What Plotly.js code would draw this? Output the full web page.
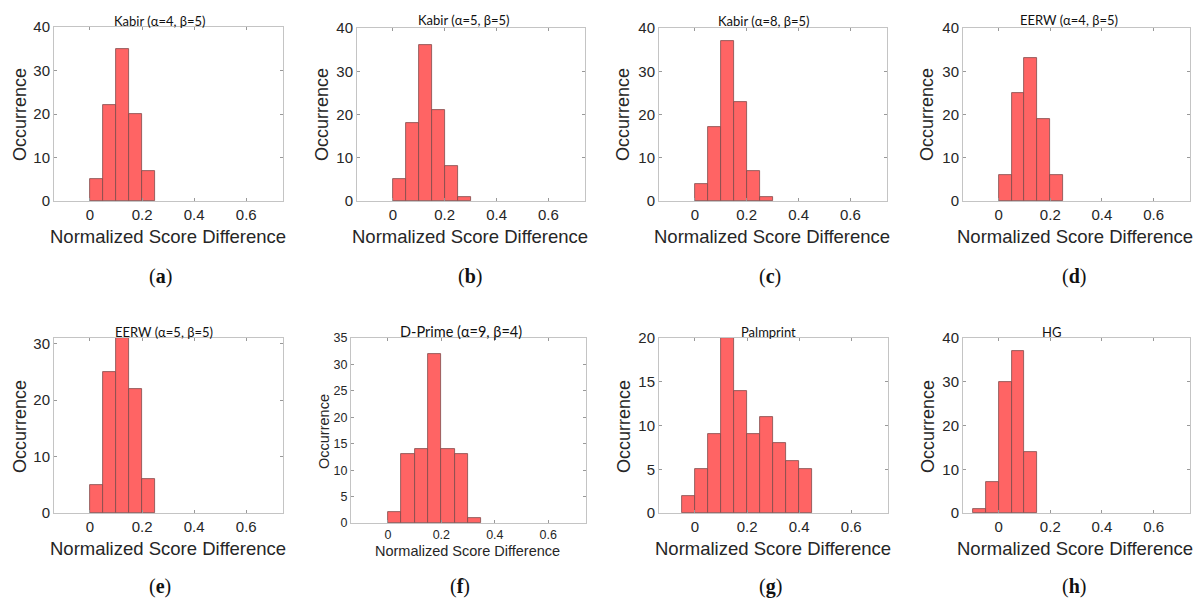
<!DOCTYPE html>
<html>
<head>
<meta charset="utf-8">
<script src="https://cdn.plot.ly/plotly-3.0.1.min.js"></script>
<style>html,body{margin:0;padding:0;background:#fff;}#chart{width:1196px;height:599px;}</style>
</head>
<body>
<div id="chart"></div>
<script>
// ---- data ----
const binWidth = 0.05;
const panelTitles = ["Kabir (α=4, β=5)", "Kabir (α=5, β=5)", "Kabir (α=8, β=5)", "EERW (α=4, β=5)",
                     "EERW (α=5, β=5)", "D-Prime (α=9, β=4)", "Palmprint", "HG"];
const panelLabels = ["a", "b", "c", "d", "e", "f", "g", "h"];
const binStarts = [0, 0, 0, 0, 0, 0, -0.05, -0.1];
const kabirA4 = [5, 22, 35, 20, 7];
const kabirA5 = [5, 18, 36, 21, 8, 1];
const kabirA8 = [4, 17, 37, 23, 7, 1];
const eerwA4 = [6, 25, 33, 19, 6];
const eerwA5 = [5, 25, 31, 22, 6];
const dprimeA9 = [2, 13, 14, 32, 14, 13, 1];
const palmprint = [2, 5, 9, 20, 14, 9, 11, 8, 6, 5];
const hg = [1, 7, 30, 37, 14];
const yMax = [40, 40, 40, 40, 31, 35, 20, 40];
const yTickStep = [10, 10, 10, 10, 10, 5, 5, 10];
const xTickVals = [0, 0.2, 0.4, 0.6];
const xTickText = ["0", "0.2", "0.4", "0.6"];
const xTitle = "Normalized Score Difference";
const yTitle = "Occurrence";
const series = [kabirA4, kabirA5, kabirA8, eerwA4, eerwA5, dprimeA9, palmprint, hg];

// ---- layout geometry (pixels) ----
const W = 1196, H = 599;
const boxes = [
  [54, 283, 27, 201], [357, 585, 28, 201], [659, 887, 28, 201], [963, 1190, 28, 201],
  [54, 283, 338, 513], [351, 586, 338, 523], [659, 888, 338, 513], [963, 1190, 338, 513]
];
const titlePos = [[160, 21], [464, 20], [764, 21], [1069, 20], [164, 332], [461, 331], [768, 332], [1051, 332]];
const capPos = [[160, 277], [470, 277], [770, 277], [1074, 277], [160, 586], [460, 586], [770, 586], [1074, 586]];
const xtPos = [[168, 237], [470, 237], [772, 237], [1075, 237], [168, 548], [467, 551], [773, 548], [1075, 548]];
const ytPos = [[20, 115], [322, 115], [623, 115], [927, 115], [20, 427], [324, 432], [624, 427], [928, 427]];

const traces = [];
const layout = {
  width: W, height: H, margin: {l: 0, r: 0, t: 0, b: 0},
  paper_bgcolor: "#fff", plot_bgcolor: "#fff", showlegend: false,
  bargap: 0, annotations: []
};
const px = x => x / W, py = y => 1 - y / H;

series.forEach((vals, i) => {
  const n = i + 1;
  const xa = "x" + (n === 1 ? "" : n), ya = "y" + (n === 1 ? "" : n);
  const centers = vals.map((v, k) => binStarts[i] + (k + 0.5) * binWidth);
  traces.push({
    type: "bar", x: centers, y: vals, width: binWidth, xaxis: xa, yaxis: ya,
    marker: {color: "#ff6464", line: {color: "#7f4a4a", width: 0.8}},
    hoverinfo: "x+y"
  });
  const small = (i === 5);
  const tickFont = {family: "Liberation Sans, Arial, sans-serif", size: small ? 12.5 : 15, color: "#262626"};
  const b = boxes[i];
  const yt = [];
  for (let v = 0; v <= yMax[i]; v += yTickStep[i]) yt.push(v);
  layout["xaxis" + (n === 1 ? "" : n)] = {
    domain: [px(b[0]), px(b[1])], anchor: ya, range: [-0.138, 0.741],
    tickvals: xTickVals, ticktext: xTickText, ticks: "inside", ticklen: 3, tickcolor: "#999",
    showline: true, linecolor: "#c4c4c4", linewidth: 1, mirror: "ticks",
    showgrid: false, zeroline: false, tickfont: tickFont, fixedrange: true
  };
  layout["yaxis" + (n === 1 ? "" : n)] = {
    domain: [py(b[3]), py(b[2])], anchor: xa, range: [0, yMax[i]],
    tickvals: yt, ticks: "inside", ticklen: 3, tickcolor: "#999",
    showline: true, linecolor: "#c4c4c4", linewidth: 1, mirror: "ticks",
    showgrid: false, zeroline: false, tickfont: tickFont, fixedrange: true
  };
  layout.annotations.push({
    xref: "paper", yref: "paper", x: px(titlePos[i][0]), y: py(titlePos[i][1]),
    text: panelTitles[i], showarrow: false, xanchor: "center", yanchor: "middle",
    font: {family: "Lato, sans-serif", size: small ? 14.5 : 13, color: "#111"}
  });
  layout.annotations.push({
    xref: "paper", yref: "paper", x: px(capPos[i][0]), y: py(capPos[i][1]),
    text: "(<b>" + panelLabels[i] + "</b>)", showarrow: false, xanchor: "center", yanchor: "middle",
    font: {family: "Liberation Serif, serif", size: 20, color: "#111"}
  });
  layout.annotations.push({
    xref: "paper", yref: "paper", x: px(xtPos[i][0]), y: py(xtPos[i][1]),
    text: xTitle, showarrow: false, xanchor: "center", yanchor: "middle",
    font: {family: "Liberation Sans, Arial, sans-serif", size: small ? 14.5 : 18.5, color: "#262626"}
  });
  layout.annotations.push({
    xref: "paper", yref: "paper", x: px(ytPos[i][0]), y: py(ytPos[i][1]),
    text: yTitle, showarrow: false, xanchor: "center", yanchor: "middle", textangle: -90,
    font: {family: "Liberation Sans, Arial, sans-serif", size: small ? 14.5 : 18, color: "#262626"}
  });
});

Plotly.newPlot("chart", traces, layout, {displayModeBar: false, staticPlot: false});
</script>
</body>
</html>
